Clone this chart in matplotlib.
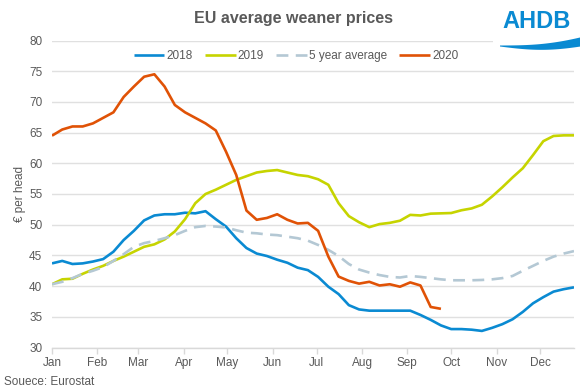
import matplotlib
matplotlib.use("Agg")
import matplotlib.pyplot as plt
from matplotlib.patches import Polygon, Rectangle
import numpy as np

plt.rcParams['font.family'] = ['Liberation Sans', 'DejaVu Sans']

months = ['Jan', 'Feb', 'Mar', 'Apr', 'May', 'Jun', 'Jul', 'Aug', 'Sep', 'Oct', 'Nov', 'Dec']
month_start_day = [0, 31, 59, 90, 120, 151, 181, 212, 243, 273, 304, 334]

prices_2018 = [43.7, 44.1, 43.6, 43.7, 44.0, 44.4, 45.6, 47.5, 49.0, 50.7,
               51.5, 51.7, 51.7, 51.95, 51.85, 52.2, 50.9, 49.7, 47.8, 46.2,
               45.3, 44.9, 44.3, 43.8, 43.0, 42.6, 41.5, 39.9, 38.7, 36.9,
               36.2, 36.0, 36.0, 36.0, 36.0, 36.0, 35.3, 34.5, 33.6, 33.0,
               33.0, 32.9, 32.7, 33.2, 33.8, 34.6, 35.8, 37.2, 38.2, 39.1,
               39.5, 39.8]
prices_2019 = [40.3, 41.1, 41.2, 42.0, 42.7, 43.3, 44.1, 44.8, 45.6, 46.4,
               46.8, 47.6, 48.9, 50.9, 53.5, 55.0, 55.7, 56.5, 57.3, 57.9,
               58.5, 58.75, 58.9, 58.5, 58.1, 57.9, 57.4, 56.5, 53.5, 51.4,
               50.4, 49.6, 50.1, 50.3, 50.65, 51.6, 51.5, 51.8, 51.85, 51.9,
               52.35, 52.65, 53.25, 54.6, 56.1, 57.7, 59.2, 61.35, 63.6, 64.45,
               64.55, 64.55]
prices_5yr = [40.3, 40.7, 41.3, 42.0, 42.5, 43.1, 44.1, 45.2, 46.4, 47.0,
              47.35, 47.8, 48.3, 49.0, 49.6, 49.8, 49.7, 49.55, 49.1, 48.7,
              48.6, 48.4, 48.3, 48.05, 47.8, 47.4, 46.7, 45.9, 44.9, 43.6,
              42.7, 42.2, 41.8, 41.5, 41.4, 41.65, 41.5, 41.3, 41.1, 40.95,
              40.95, 40.95, 41.0, 41.1, 41.3, 41.65, 42.5, 43.3, 44.1, 44.8,
              45.3, 45.7]
prices_2020 = [64.5, 65.5, 66.0, 66.0, 66.5, 67.4, 68.3, 70.8, 72.5, 74.1,
               74.5, 72.5, 69.5, 68.3, 67.4, 66.5, 65.35, 61.9, 58.1, 52.3,
               50.8, 51.1, 51.7, 50.8, 50.2, 50.3, 49.0, 44.8, 41.55, 40.85,
               40.4, 40.7, 40.1, 40.3, 39.9, 40.6, 40.1, 36.6, 36.3]

weeks = np.arange(52)
tick_pos = [d / 7.0 for d in month_start_day]

W, H = 587, 391
fig = plt.figure(figsize=(W / 100, H / 100), dpi=100)
ax = fig.add_axes([52 / W, 1 - 347.5 / H, (574 - 52) / W, (347.5 - 40.5) / H])

grey = '#595959'
blue = '#0a8ad2'
ax.plot(weeks, prices_2018, color=blue, lw=1.9, label='2018', solid_capstyle='butt')
ax.plot(weeks, prices_2019, color='#c6d400', lw=1.9, label='2019', solid_capstyle='butt')
ax.plot(weeks, prices_5yr, color='#b4c8d4', lw=1.9, label='5 year average',
        dashes=(4.5, 2.8))
ax.plot(np.arange(len(prices_2020)), prices_2020, color='#e05206', lw=1.9, label='2020',
        solid_capstyle='butt')

ax.set_xlim(0, 51)
ax.set_ylim(30, 80)
ax.set_yticks(np.arange(30, 81, 5))
ax.yaxis.grid(True, color='#e0e0e0', lw=1)
ax.set_axisbelow(True)
for s in ['top', 'right', 'left']:
    ax.spines[s].set_visible(False)
ax.spines['bottom'].set_color('#d9d9d9')
ax.spines['bottom'].set_linewidth(1)
ax.set_xticks(tick_pos)
ax.set_xticklabels(months)
ax.tick_params(axis='x', colors='#d9d9d9', length=4, width=1, labelcolor=grey, labelsize=8.5, pad=3)
ax.tick_params(axis='y', length=0, labelcolor=grey, labelsize=8.5, pad=7)
ax.set_ylabel('€ per head', color=grey, fontsize=8.5, labelpad=2)

leg = ax.legend(loc='center', bbox_to_anchor=((296 - 52) / 522, 1 - (56 - 40.5) / 307),
                ncol=4, frameon=False,
                fontsize=8.5, handlelength=2.6, columnspacing=1.0, handletextpad=0.2)
for t in leg.get_texts():
    t.set_color(grey)

fig.text(293 / W, 1 - 18 / H, 'EU average weaner prices', ha='center', va='center',
         fontsize=11.5, fontweight='bold', color=grey)
fig.text(4 / W, 1 - 382 / H, 'Souece: Eurostat', ha='left', va='center', fontsize=8.5, color=grey)

# AHDB logo (white background box covering grid end)
fig.patches.append(Rectangle((493 / W, 1 - 53 / H), (587 - 493) / W, 53 / H,
                             transform=fig.transFigure, facecolor='white', edgecolor='none',
                             zorder=5))
fig.text(537 / W, 1 - 21.5 / H, 'AHDB', ha='center', va='center', fontsize=17,
         fontweight='bold', color=blue, zorder=6)
xs = np.linspace(500, 580, 50)
u = (xs - 500) / 80
top = 45.5 - 5 * u + 1.5 * np.sin(u * np.pi) - 3 * u ** 3
bot = 46.5 + 3.5 * np.sin(u * np.pi * 0.9) + 0.5 * u - 1.5 * u ** 2
poly_pts = [(x / W, 1 - y / H) for x, y in zip(xs, top)] + \
           [(x / W, 1 - y / H) for x, y in zip(xs[::-1], bot[::-1])]
fig.patches.append(Polygon(poly_pts, closed=True, transform=fig.transFigure,
                           facecolor=blue, edgecolor='none', zorder=6))

fig.savefig('out.png', dpi=100)
